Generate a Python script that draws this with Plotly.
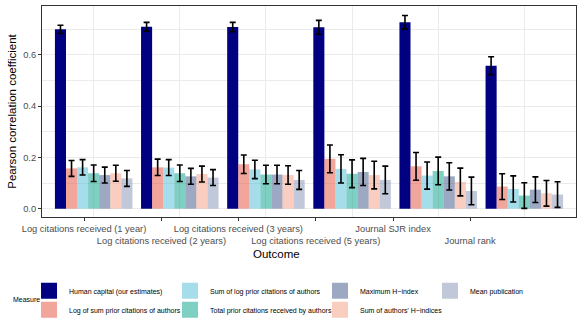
import plotly.graph_objects as go

# outcomes (bar groups) and measures
outcomes = ["Log citations received (1 year)", "Log citations received (2 years)",
            "Log citations received (3 years)", "Log citations received (5 years)",
            "Journal SJR index", "Journal rank"]
measures = ["Human capital (our estimates)", "Log of sum prior citations of authors",
            "Sum of log prior citations of authors", "Total prior citations received by authors",
            "Maximum H\u2212index", "Sum of authors' H\u2212indices", "Mean publication"]
colors = ["#000080", "rgba(230,75,53,0.5)", "rgba(77,187,213,0.5)", "rgba(0,160,135,0.5)",
          "rgba(60,84,136,0.5)", "rgba(243,155,127,0.5)", "rgba(132,145,180,0.5)"]

# correlation per measure, one value per outcome
values = [
    [0.699, 0.709, 0.708, 0.707, 0.727, 0.557],
    [0.157, 0.161, 0.173, 0.194, 0.165, 0.086],
    [0.161, 0.160, 0.153, 0.155, 0.129, 0.077],
    [0.138, 0.138, 0.133, 0.136, 0.147, 0.051],
    [0.131, 0.126, 0.133, 0.143, 0.126, 0.074],
    [0.138, 0.135, 0.131, 0.131, 0.104, 0.060],
    [0.118, 0.121, 0.112, 0.112, 0.069, 0.055],
]
# half-width of the confidence interval
errors = [
    [0.016, 0.017, 0.018, 0.027, 0.026, 0.035],
    [0.031, 0.032, 0.036, 0.054, 0.054, 0.050],
    [0.030, 0.031, 0.036, 0.055, 0.053, 0.051],
    [0.032, 0.032, 0.036, 0.054, 0.054, 0.050],
    [0.031, 0.031, 0.036, 0.053, 0.053, 0.050],
    [0.031, 0.031, 0.036, 0.054, 0.054, 0.050],
    [0.031, 0.031, 0.037, 0.054, 0.054, 0.050],
]
group_pos = [1, 2, 3, 4, 5, 6]
# axis labels sit at shifted positions in the original figure
label_pos = [0.888, 1.787, 2.68, 3.578, 4.476, 5.37]
label_row = [0, 1, 0, 1, 0, 1]
legend_col = [1, 1, 2, 2, 3, 3, 4]
legend_rank = [1, 2, 1, 2, 1, 2, 1]

fig = go.Figure()
for i, m in enumerate(measures):
    fig.add_trace(go.Bar(
        x=group_pos, y=values[i], name=m, marker_color=colors[i], marker_line_width=0,
        error_y=dict(type="data", array=errors[i], color="black", thickness=1.6, width=3),
        showlegend=False))

# legend entries (bigger square keys), split into columns like ggplot
for i, m in enumerate(measures):
    lg = "legend" if legend_col[i] == 1 else "legend%d" % legend_col[i]
    fig.add_trace(go.Scatter(
        x=[None], y=[None], mode="markers", name=m, xaxis="x2",
        marker=dict(symbol="square", size=16, color=colors[i]),
        legend=lg, legendrank=legend_rank[i], showlegend=True))

ticktext = [("<br>" if r else "") + t for t, r in zip(outcomes, label_row)]
tickfont = dict(family="Liberation Sans", size=9.3, color="#4D4D4D")

legend_style = dict(orientation="v", yanchor="top", y=-0.281, xanchor="left",
                    font=dict(family="Liberation Sans", size=7.0, color="black"),
                    bgcolor="rgba(0,0,0,0)", tracegroupgap=0, itemwidth=30)
legend_x = [-0.0243, 0.2397, 0.5206, 0.7266]

fig.update_layout(
    width=583, height=333,
    margin=dict(l=42, r=7, t=6, b=116, autoexpand=False),
    paper_bgcolor="white", plot_bgcolor="white",
    barmode="group", bargap=0.1, bargroupgap=0,
    font=dict(family="Liberation Sans"),
    xaxis=dict(range=[0.4, 6.6], tickvals=group_pos, showticklabels=False,
               showgrid=True, gridcolor="#EBEBEB", gridwidth=1, ticks="",
               showline=True, linecolor="#333333", mirror=True, zeroline=False,
               automargin=False),
    xaxis2=dict(overlaying="x", anchor="y", side="bottom", range=[0.4, 6.6],
                tickvals=label_pos, ticktext=ticktext, tickfont=tickfont, tickangle=0,
                showgrid=False, ticks="outside", ticklen=3, tickcolor="#333333",
                zeroline=False, showline=False, automargin=False),
    yaxis=dict(range=[-0.0325, 0.79], tickvals=[0, 0.2, 0.4, 0.6], tickformat=".1f",
               tickfont=tickfont, ticks="outside", ticklen=3, tickcolor="#333333",
               showgrid=True, gridcolor="#EBEBEB", gridwidth=1,
               minor=dict(tickvals=[0.1, 0.3, 0.5, 0.7], showgrid=True,
                          gridcolor="#EBEBEB", gridwidth=0.6, ticks=""),
               showline=True, linecolor="#333333", mirror=True, zeroline=False,
               automargin=False,
               title=dict(text="Pearson correlation coefficient", standoff=4,
                          font=dict(family="Liberation Sans", size=11.5, color="black"))),
    legend=dict(legend_style, x=legend_x[0]),
    legend2=dict(legend_style, x=legend_x[1]),
    legend3=dict(legend_style, x=legend_x[2]),
    legend4=dict(legend_style, x=legend_x[3]),
    annotations=[
        dict(text="Outcome", xref="paper", yref="paper", x=0.44, y=-0.175,
             xanchor="center", yanchor="middle", showarrow=False,
             font=dict(family="Liberation Sans", size=11.5, color="black")),
        dict(text="Measure", xref="paper", yref="paper", x=-0.0287, y=-0.393,
             xanchor="center", yanchor="middle", showarrow=False,
             font=dict(family="Liberation Sans", size=7.0, color="black")),
    ],
)

# page margin off so the figure sits at the window's corner
fig.write_html("out.html", config={"displayModeBar": False},
               post_script="document.body.style.margin='0';")
